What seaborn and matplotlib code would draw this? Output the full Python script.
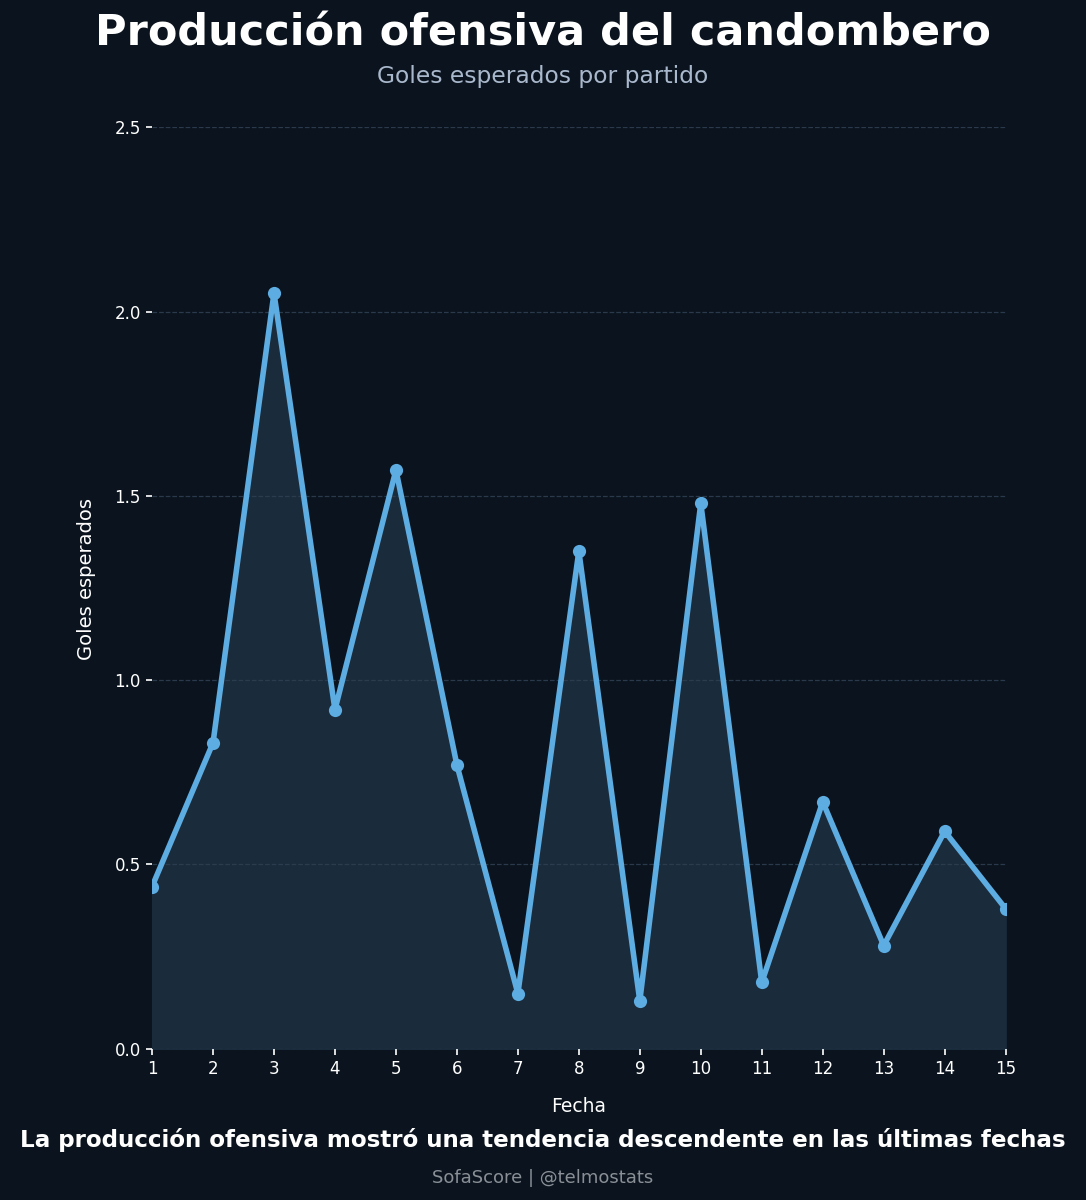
import numpy as np
import pandas as pd
import seaborn as sns
import matplotlib
matplotlib.use("Agg")
import matplotlib.pyplot as plt

# Datos: goles esperados (xG) por fecha
fechas = [1, 2, 3, 4, 5, 6, 7, 8, 9, 10, 11, 12, 13, 14, 15]
xg = [0.44, 0.83, 2.05, 0.92, 1.57, 0.77, 0.15, 1.35, 0.13, 1.48, 0.18, 0.67, 0.28, 0.59, 0.38]
y_ticks = [0.0, 0.5, 1.0, 1.5, 2.0, 2.5]

bg = "#0b141e"
line_color = "#5dade2"
fill_color = "#1a2b3c"

sns.set_style("dark")
plt.rcParams["font.family"] = ["DejaVu Sans"]

df = pd.DataFrame({"Fecha": fechas, "xG": xg})

fig = plt.figure(figsize=(10.86, 12), dpi=100, facecolor=bg)
ax = fig.add_axes([0.14, 0.126, 0.786, 0.768])
ax.set_facecolor(bg)

# relleno bajo la curva (debajo de la grilla)
ax.fill_between(df["Fecha"], df["xG"], 0, color=fill_color, alpha=1, zorder=0.2)
sns.lineplot(data=df, x="Fecha", y="xG", ax=ax, color=line_color, linewidth=4,
             marker="o", markersize=9.5, markeredgewidth=0, zorder=3)

ax.set_xlim(1, 15)
ax.set_ylim(0, 2.5)
ax.set_xticks(fechas)
ax.set_yticks(y_ticks)
ax.set_yticklabels([f"{t:.1f}" for t in y_ticks])
ax.grid(axis="y", color="#2e3f52", linestyle="--", linewidth=0.9, alpha=0.9)
ax.grid(axis="x", visible=False)
for s in ax.spines.values():
    s.set_visible(False)
ax.tick_params(left=True, bottom=True, colors="white", labelsize=12,
               length=4, width=1.2, direction="out", pad=4)

ax.set_xlabel("Fecha", color="white", fontsize=13.5, labelpad=14)
ax.set_ylabel("Goles esperados", color="white", fontsize=14)
ax.yaxis.set_label_coords(-0.066, 0.51)

fig.text(0.5, 0.972, "Producción ofensiva del candombero", ha="center", va="center",
         color="white", fontsize=31, fontweight="bold")
fig.text(0.5, 0.936, "Goles esperados por partido", ha="center", va="center",
         color="#a9b8cc", fontsize=16.8)
fig.text(0.5, 0.050, "La producción ofensiva mostró una tendencia descendente en las últimas fechas",
         ha="center", va="center", color="white", fontsize=16.6, fontweight="bold")
fig.text(0.5, 0.018, "SofaScore | @telmostats", ha="center", va="center",
         color="#8a8f96", fontsize=13)

fig.savefig("out.png", dpi=100, facecolor=bg)
